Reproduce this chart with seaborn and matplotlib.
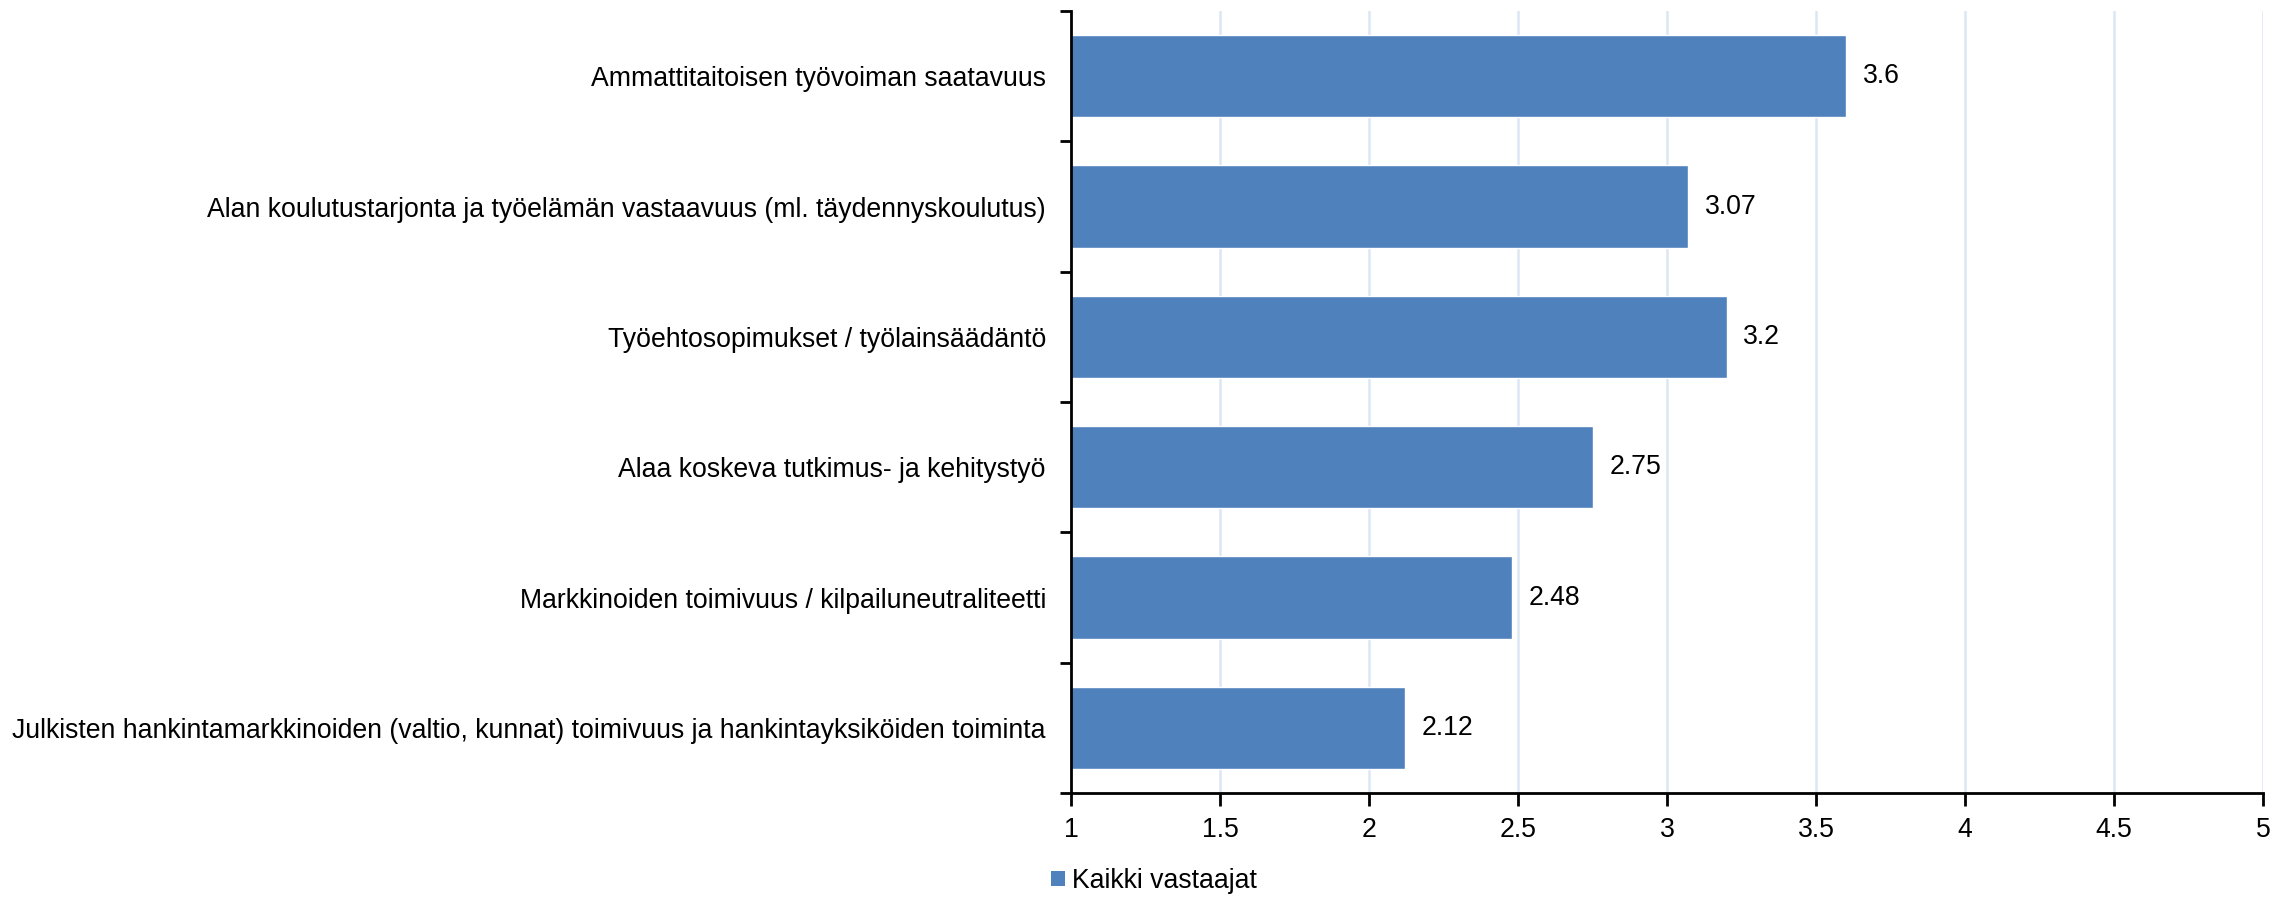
import matplotlib
matplotlib.use("Agg")
import matplotlib.pyplot as plt
import seaborn as sns
import pandas as pd
import numpy as np
from matplotlib.patches import Patch

# === Data ===
categories = [
    "Ammattitaitoisen työvoiman saatavuus",
    "Alan koulutustarjonta ja työelämän vastaavuus (ml. täydennyskoulutus)",
    "Työehtosopimukset / työlainsäädäntö",
    "Alaa koskeva tutkimus- ja kehitystyö",
    "Markkinoiden toimivuus / kilpailuneutraliteetti",
    "Julkisten hankintamarkkinoiden (valtio, kunnat) toimivuus ja hankintayksiköiden toiminta",
]
values = [3.6, 3.07, 3.2, 2.75, 2.48, 2.12]
value_labels = ["3.6", "3.07", "3.2", "2.75", "2.48", "2.12"]
x_ticks = [1, 1.5, 2, 2.5, 3, 3.5, 4, 4.5, 5]
x_tick_labels = ["1", "1.5", "2", "2.5", "3", "3.5", "4", "4.5", "5"]
series_name = "Kaikki vastaajat"

BAR = "#4f81bd"
GRID = "#dce6f2"
FS = 19.2

sns.set_theme(style="ticks")
plt.rcParams["font.family"] = ["Liberation Sans", "DejaVu Sans"]
plt.rcParams["text.color"] = "black"
plt.rcParams["xtick.color"] = "black"
plt.rcParams["ytick.color"] = "black"

df = pd.DataFrame({"cat": categories, "val": values})

fig = plt.figure(figsize=(22.75, 8.98), dpi=100)
ax = fig.add_axes([1071 / 2275, 0.1169, 1192 / 2275, 0.8708])

sns.barplot(data=df, x="val", y="cat", color=BAR, saturation=1, width=0.63, ax=ax, zorder=3)

ax.set_xlim(1, 5)
ax.set_ylim(5.5, -0.5)
ax.set_xticks(x_ticks)
ax.set_xticklabels(x_tick_labels, fontsize=FS)
ax.set_xlabel("")
ax.set_ylabel("")
ax.tick_params(axis="y", which="major", labelsize=FS, length=0, pad=18, left=True)
ax.set_yticks(np.arange(-0.5, 6, 1), minor=True)
ax.tick_params(axis="y", which="minor", length=8, width=2, direction="out", left=True)
ax.tick_params(axis="x", length=9, width=2, direction="out", pad=8, bottom=True)

for x in x_ticks[1:]:
    ax.axvline(x, color=GRID, linewidth=1.8, zorder=1)

for s in ["top", "right"]:
    ax.spines[s].set_visible(False)
for s in ["left", "bottom"]:
    ax.spines[s].set_color("black")
    ax.spines[s].set_linewidth(2)
    ax.spines[s].set_zorder(4)

for i, (v, lab) in enumerate(zip(values, value_labels)):
    ax.annotate(lab, xy=(v, i), xytext=(12, 0), textcoords="offset points",
                ha="left", va="center", fontsize=FS, color="black")

handle = Patch(facecolor=BAR, edgecolor="none")
fig.legend([handle], [series_name], loc="center left", bbox_to_anchor=(1051 / 2275, 1 - 881 / 898),
           frameon=False, fontsize=FS, handlelength=0.52, handleheight=0.52,
           handletextpad=0.26, borderpad=0, borderaxespad=0)

fig.savefig("out.png", dpi=100)
